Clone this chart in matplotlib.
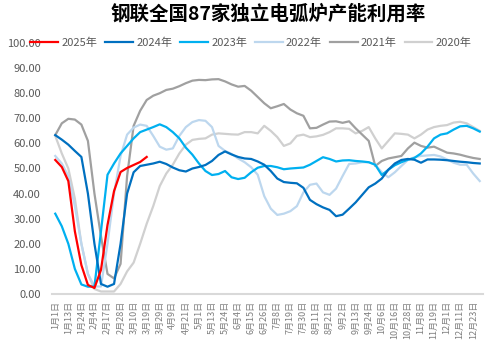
import matplotlib
matplotlib.use("Agg")
import matplotlib.pyplot as plt
import numpy as np

plt.rcParams['font.family'] = ['Noto Sans CJK SC', 'DejaVu Sans']

title = "钢联全国87家独立电弧炉产能利用率"

tick_labels = ["1月1日", "1月13日", "1月24日", "2月4日", "2月17日", "2月28日", "3月10日",
               "3月19日", "3月29日", "4月9日", "4月21日", "5月1日", "5月13日", "5月24日",
               "6月4日", "6月15日", "6月26日", "7月8日", "7月19日", "7月30日", "8月11日",
               "8月21日", "9月2日", "9月13日", "9月24日", "10月6日", "10月16日", "10月28日",
               "11月8日", "11月19日", "12月1日", "12月11日", "12月23日"]

y2025 = [53.4, 50.6, 45.0, 25.0, 11.5, 3.6, 2.4, 9.6, 27.5, 41.0, 48.6, 50.2, 51.4, 52.6, 54.6]

y2024 = [63.3, 61.5, 59.5, 57.0, 54.6, 40.0, 20.0, 4.0, 2.9, 4.0, 20.0, 40.0, 48.5, 51.0,
         51.5, 52.0, 52.7, 51.8, 50.4, 49.3, 48.8, 50.0, 50.6, 51.4, 53.0, 55.4, 56.8, 55.6,
         54.6, 54.0, 53.8, 52.8, 51.5, 49.0, 46.0, 44.6, 44.3, 44.1, 42.3, 37.5, 35.8, 34.5,
         33.5, 31.0, 31.6, 34.0, 36.5, 39.5, 42.5, 44.0, 46.0, 49.5, 52.0, 53.4, 53.8, 53.5,
         52.3, 53.6, 53.6, 53.5, 53.3, 53.0, 52.7, 52.5, 52.2, 52.0]

y2023 = [32.0, 27.0, 20.0, 10.0, 3.8, 2.9, 3.0, 25.0, 47.5, 52.0, 56.0, 59.0, 62.0, 64.5,
         65.5, 66.5, 67.6, 66.5, 64.5, 62.0, 58.3, 55.5, 52.0, 49.0, 47.4, 47.8, 49.0, 46.5,
         45.8, 46.3, 48.5, 50.3, 51.0, 51.0, 50.5, 49.7, 50.0, 50.2, 50.4, 51.5, 53.0, 54.5,
         53.8, 52.8, 53.2, 53.3, 53.0, 52.8, 52.5, 51.5, 47.4, 49.5, 51.3, 52.5, 53.5, 54.2,
         56.0, 58.7, 62.0, 63.5, 64.0, 65.5, 66.8, 67.0, 66.0, 64.7]

y2022 = [55.0, 52.0, 47.0, 35.0, 20.0, 8.0, 3.0, 3.0, 20.0, 40.0, 55.0, 63.5, 66.3, 67.5,
         67.0, 63.0, 58.7, 57.5, 58.0, 63.0, 66.5, 68.5, 69.3, 69.0, 66.5, 59.0, 57.0, 55.8,
         54.0, 52.5, 50.5, 47.5, 39.0, 34.0, 31.5, 32.0, 33.0, 35.0, 40.5, 43.5, 44.0, 40.5,
         39.5, 42.0, 47.0, 51.8, 52.0, 52.5, 52.5, 51.5, 48.5, 46.5, 48.5, 51.0, 53.4, 54.5,
         55.0, 55.2, 55.4, 54.8, 53.6, 52.3, 51.5, 51.5, 48.0, 45.0]

y2021 = [63.3, 68.0, 69.8, 69.5, 67.5, 61.0, 40.0, 23.0, 8.0, 6.2, 12.0, 47.0, 67.0, 73.0,
         77.3, 79.0, 80.0, 81.3, 81.8, 82.8, 84.0, 85.0, 85.3, 85.2, 85.5, 85.6, 84.7, 83.5,
         82.6, 82.9, 81.0, 78.5, 76.0, 74.0, 74.8, 75.7, 73.5, 72.0, 71.0, 66.0, 66.2, 67.5,
         68.7, 68.8, 68.2, 68.8, 66.0, 63.5, 61.0, 51.0, 53.0, 54.0, 54.5, 55.0, 58.0, 60.3,
         59.0, 58.3, 58.7, 57.5, 56.3, 56.0, 55.5, 54.8, 54.2, 53.8]

y2020 = [63.0, 56.0, 50.0, 38.0, 20.0, 8.0, 2.0, 1.0, 1.0, 1.0, 4.0, 9.0, 12.5, 20.0,
         28.0, 35.0, 43.0, 48.0, 51.5, 56.0, 59.5, 61.4, 61.8, 62.0, 63.5, 64.0, 63.8, 63.6,
         63.5, 64.5, 64.5, 64.0, 67.0, 65.0, 62.5, 59.0, 60.0, 63.0, 63.5, 62.5, 62.8, 63.4,
         64.5, 66.0, 66.0, 65.8, 64.0, 65.0, 66.5, 62.0, 58.0, 61.0, 64.0, 63.8, 63.5, 62.0,
         63.5, 65.5, 66.5, 67.0, 67.3, 68.3, 68.6, 68.0, 66.5, 65.0]

series = [("2025年", y2025, "#FF0000"),
          ("2024年", y2024, "#0070C0"),
          ("2023年", y2023, "#00B0F0"),
          ("2022年", y2022, "#BDD7EE"),
          ("2021年", y2021, "#A0A0A0"),
          ("2020年", y2020, "#D0D0D0")]

fig = plt.figure(figsize=(4.94, 3.56), dpi=100)
ax = fig.add_axes([52 / 494, 62 / 356, 431 / 494, 251 / 356])

lines = {}
for name, vals, color in reversed(series):
    lines[name], = ax.plot(np.arange(len(vals)), vals, color=color, lw=1.6, label=name)

ax.set_xlim(-0.5, 65.5)
ax.set_ylim(0, 100)
ax.set_yticks(np.arange(0, 101, 10))
ax.set_yticklabels(["%.2f" % v for v in np.arange(0, 101, 10)])
ax.set_xticks(np.arange(0, 2 * len(tick_labels), 2))
ax.set_xticklabels(tick_labels, rotation=90)
ax.tick_params(axis="both", length=0, colors="#595959")
ax.tick_params(axis="y", labelsize=8, pad=8)
ax.tick_params(axis="x", labelsize=6.5, pad=5, colors="#7F7F7F")
for s in ["top", "right", "left"]:
    ax.spines[s].set_visible(False)
ax.spines["bottom"].set_color("#D9D9D9")
ax.spines["bottom"].set_linewidth(1.5)

fig.text(268 / 494, 1 - 14 / 356, title, ha="center", va="center",
         fontsize=14, fontweight="bold")

fig.legend([lines[n] for n, _, _ in series], [n for n, _, _ in series],
           loc="center left", bbox_to_anchor=(26 / 494, 1 - 43 / 356), ncol=6,
           frameon=False, fontsize=8, handlelength=2.5, handletextpad=0.3,
           columnspacing=0.7, labelcolor="#595959", borderaxespad=0)

fig.savefig("out.png", dpi=100)
